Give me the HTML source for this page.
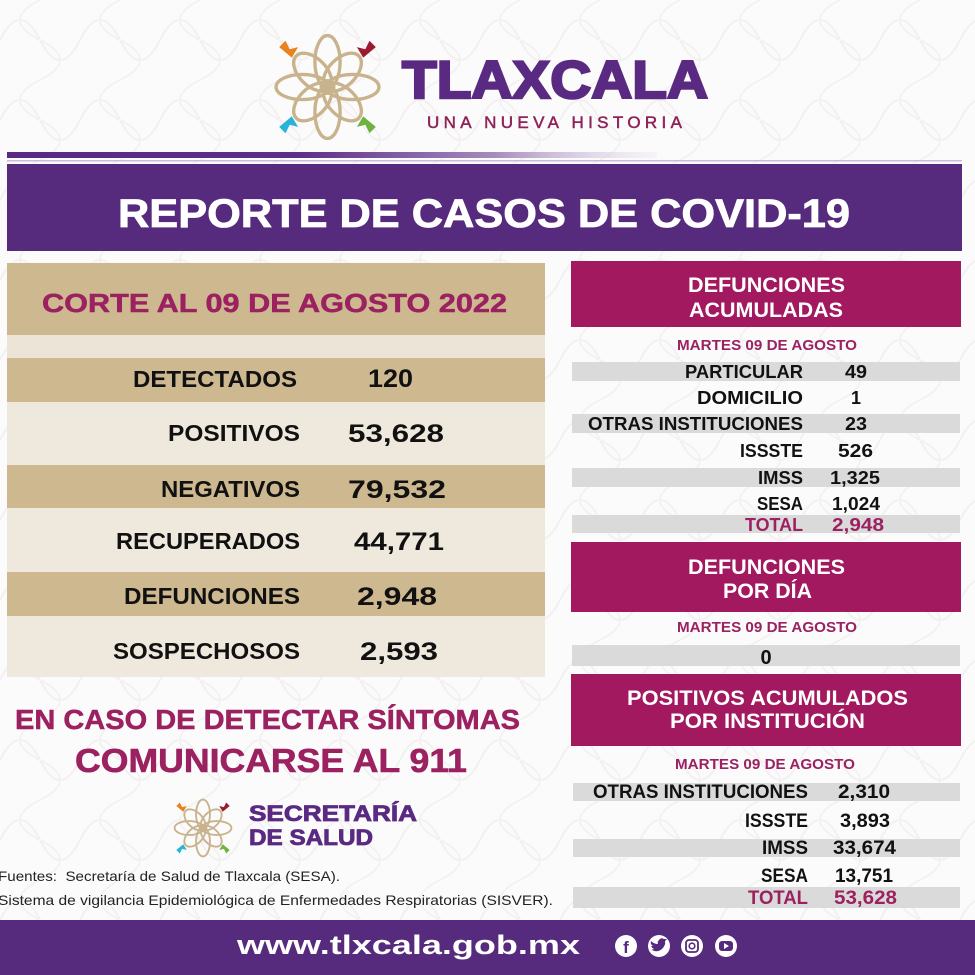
<!DOCTYPE html>
<html><head><meta charset="utf-8"><style>
html,body{margin:0;padding:0;background:#fcfbfb;}
svg{display:block;}
text{font-family:"Liberation Sans",Arial,sans-serif;font-weight:bold;}
</style></head><body>
<svg width="975" height="975" viewBox="0 0 975 975" xmlns="http://www.w3.org/2000/svg">
<defs>
<linearGradient id="gl" x1="0" x2="1" y1="0" y2="0">
<stop offset="0" stop-color="#5a2a82"/><stop offset="0.45" stop-color="#5e2d86"/><stop offset="0.75" stop-color="#a58bbd"/><stop offset="1" stop-color="#e9e1ef" stop-opacity="0.3"/>
</linearGradient>
<pattern id="bgp" width="80" height="80" patternUnits="userSpaceOnUse">
<path d="M0,40 Q20,0 40,40 Q60,80 80,40" fill="none" stroke="#f3f0f1" stroke-width="2"/>
<path d="M40,0 Q0,20 40,40 Q80,60 40,80" fill="none" stroke="#f4f1f2" stroke-width="2"/>
</pattern>
<g id="flower">
<g fill="none" stroke="#c8b38d" stroke-width="3.2">
<ellipse cx="0" cy="-24" rx="12" ry="25"/>
<ellipse cx="0" cy="24" rx="12" ry="25"/>
<ellipse cx="-24" cy="0" rx="25" ry="12"/>
<ellipse cx="24" cy="0" rx="25" ry="12"/>
<ellipse cx="0" cy="-20" rx="13" ry="22" transform="rotate(45)"/>
<ellipse cx="0" cy="-20" rx="13" ry="22" transform="rotate(135)"/>
<ellipse cx="0" cy="-20" rx="13" ry="22" transform="rotate(225)"/>
<ellipse cx="0" cy="-20" rx="13" ry="22" transform="rotate(315)"/>
<circle cx="0" cy="0" r="6"/>
</g>
<path d="M-46,-38 l6,-6 l4,8 l8,-2 l-6,10 z" fill="#e8821e"/>
<path d="M46,-38 l-6,-6 l-4,8 l-8,-2 l6,10 z" fill="#9b1b30"/>
<path d="M-46,38 l6,6 l4,-8 l8,2 l-6,-10 z" fill="#2ab3d9"/>
<path d="M46,38 l-6,6 l-4,-8 l-8,2 l6,-10 z" fill="#6db33f"/>
</g>
</defs>
<rect width="975" height="975" fill="#fcfbfb"/>
<rect width="975" height="975" fill="url(#bgp)"/>

<!-- header logo -->
<use href="#flower" transform="translate(327.5,87) scale(1.05)"/>
<text x="402" y="98" font-size="53" fill="#5a2a82" stroke="#5a2a82" stroke-width="2.4" textLength="306" lengthAdjust="spacingAndGlyphs">TLAXCALA</text>
<text x="427" y="128" font-size="17" fill="#8f2359" style="font-weight:normal" stroke="#8f2359" stroke-width="0.5" textLength="255" lengthAdjust="spacing">UNA NUEVA HISTORIA</text>

<!-- gradient lines -->
<rect x="7" y="152" width="650" height="6" fill="url(#gl)"/>
<rect x="7" y="160" width="955" height="1.5" fill="#cdbcd9"/>

<!-- banner -->
<rect x="7" y="164" width="955" height="87" fill="#562a7c"/>
<text x="118" y="227" font-size="40" fill="#ffffff" stroke="#ffffff" stroke-width="0.8" textLength="732" lengthAdjust="spacingAndGlyphs">REPORTE DE CASOS DE COVID-19</text>

<!-- left panel -->
<rect x="7" y="263" width="538" height="72" fill="#cdb88f"/>
<rect x="7" y="335" width="538" height="23" fill="#ece4d6"/>
<rect x="7" y="358" width="538" height="44" fill="#cdb88f"/>
<rect x="7" y="402" width="538" height="63" fill="#efe8dc"/>
<rect x="7" y="465" width="538" height="43" fill="#cdb88f"/>
<rect x="7" y="508" width="538" height="64" fill="#efe8dc"/>
<rect x="7" y="572" width="538" height="44" fill="#cdb88f"/>
<rect x="7" y="616" width="538" height="61" fill="#efe8dc"/>

<text x="42" y="312" font-size="26" fill="#9b2160" stroke="#9b2160" stroke-width="0.5" textLength="465" lengthAdjust="spacingAndGlyphs">CORTE AL 09 DE AGOSTO 2022</text>

<g font-size="23" fill="#111">
<text x="133" y="387" textLength="164" lengthAdjust="spacingAndGlyphs">DETECTADOS</text>
<text x="168" y="441" textLength="132" lengthAdjust="spacingAndGlyphs">POSITIVOS</text>
<text x="161" y="497" textLength="139" lengthAdjust="spacingAndGlyphs">NEGATIVOS</text>
<text x="116" y="549" textLength="184" lengthAdjust="spacingAndGlyphs">RECUPERADOS</text>
<text x="124" y="604" textLength="176" lengthAdjust="spacingAndGlyphs">DEFUNCIONES</text>
<text x="113" y="659" textLength="187" lengthAdjust="spacingAndGlyphs">SOSPECHOSOS</text>
</g>
<g font-size="25" fill="#111">
<text x="368" y="387" textLength="45" lengthAdjust="spacingAndGlyphs">120</text>
<text x="348" y="442" textLength="96" lengthAdjust="spacingAndGlyphs">53,628</text>
<text x="348" y="498" textLength="98" lengthAdjust="spacingAndGlyphs">79,532</text>
<text x="354" y="550" textLength="90" lengthAdjust="spacingAndGlyphs">44,771</text>
<text x="357" y="605" textLength="80" lengthAdjust="spacingAndGlyphs">2,948</text>
<text x="360" y="660" textLength="78" lengthAdjust="spacingAndGlyphs">2,593</text>
</g>

<!-- right column: box 1 -->
<rect x="571" y="261" width="390" height="66" fill="#a3195f"/>
<text x="688" y="292" font-size="21" fill="#fff" textLength="157" lengthAdjust="spacingAndGlyphs">DEFUNCIONES</text>
<text x="689" y="317" font-size="21" fill="#fff" textLength="154" lengthAdjust="spacingAndGlyphs">ACUMULADAS</text>
<text x="677" y="350" font-size="15" fill="#9b2160" textLength="180" lengthAdjust="spacingAndGlyphs">MARTES 09 DE AGOSTO</text>

<rect x="572" y="362" width="388" height="19" fill="#dadada"/>
<rect x="572" y="414" width="388" height="19" fill="#dadada"/>
<rect x="572" y="468" width="388" height="19" fill="#dadada"/>
<rect x="572" y="515" width="388" height="18" fill="#dadada"/>

<g font-size="18" fill="#111">
<text x="685" y="378" textLength="118" lengthAdjust="spacingAndGlyphs">PARTICULAR</text>
<text x="697" y="404" textLength="106" lengthAdjust="spacingAndGlyphs">DOMICILIO</text>
<text x="588" y="430" textLength="215" lengthAdjust="spacingAndGlyphs">OTRAS INSTITUCIONES</text>
<text x="740" y="457" textLength="63" lengthAdjust="spacingAndGlyphs">ISSSTE</text>
<text x="758" y="484" textLength="45" lengthAdjust="spacingAndGlyphs">IMSS</text>
<text x="757" y="510" textLength="46" lengthAdjust="spacingAndGlyphs">SESA</text>
<text x="845" y="378" textLength="22" lengthAdjust="spacingAndGlyphs">49</text>
<text x="851" y="404">1</text>
<text x="845" y="430" textLength="22" lengthAdjust="spacingAndGlyphs">23</text>
<text x="838" y="457" textLength="35" lengthAdjust="spacingAndGlyphs">526</text>
<text x="830" y="484" textLength="50" lengthAdjust="spacingAndGlyphs">1,325</text>
<text x="832" y="510" textLength="48" lengthAdjust="spacingAndGlyphs">1,024</text>
</g>
<g font-size="18" fill="#9b2160">
<text x="745" y="531" textLength="58" lengthAdjust="spacingAndGlyphs">TOTAL</text>
<text x="832" y="531" textLength="52" lengthAdjust="spacingAndGlyphs">2,948</text>
</g>

<!-- box 2 -->
<rect x="571" y="542" width="390" height="70" fill="#a3195f"/>
<text x="688" y="574" font-size="21" fill="#fff" textLength="157" lengthAdjust="spacingAndGlyphs">DEFUNCIONES</text>
<text x="723" y="598" font-size="21" fill="#fff" textLength="89" lengthAdjust="spacingAndGlyphs">POR DÍA</text>
<text x="677" y="632" font-size="15" fill="#9b2160" textLength="180" lengthAdjust="spacingAndGlyphs">MARTES 09 DE AGOSTO</text>
<rect x="572" y="645" width="388" height="21" fill="#dadada"/>
<text x="766" y="664" font-size="20" fill="#111" text-anchor="middle">0</text>

<!-- box 3 -->
<rect x="571" y="674" width="390" height="72" fill="#a3195f"/>
<text x="627" y="705" font-size="21" fill="#fff" textLength="281" lengthAdjust="spacingAndGlyphs">POSITIVOS ACUMULADOS</text>
<text x="670" y="728" font-size="21" fill="#fff" textLength="195" lengthAdjust="spacingAndGlyphs">POR INSTITUCIÓN</text>
<text x="675" y="769" font-size="15" fill="#9b2160" textLength="180" lengthAdjust="spacingAndGlyphs">MARTES 09 DE AGOSTO</text>

<rect x="573" y="783" width="387" height="18" fill="#dadada"/>
<rect x="573" y="839" width="387" height="18" fill="#dadada"/>
<rect x="573" y="887" width="387" height="21" fill="#dadada"/>

<g font-size="19" fill="#111">
<text x="593" y="798" textLength="215" lengthAdjust="spacingAndGlyphs">OTRAS INSTITUCIONES</text>
<text x="745" y="827" textLength="63" lengthAdjust="spacingAndGlyphs">ISSSTE</text>
<text x="762" y="854" textLength="46" lengthAdjust="spacingAndGlyphs">IMSS</text>
<text x="761" y="882" textLength="47" lengthAdjust="spacingAndGlyphs">SESA</text>
<text x="838" y="798" textLength="52" lengthAdjust="spacingAndGlyphs">2,310</text>
<text x="840" y="827" textLength="50" lengthAdjust="spacingAndGlyphs">3,893</text>
<text x="833" y="854" textLength="63" lengthAdjust="spacingAndGlyphs">33,674</text>
<text x="835" y="882" textLength="58" lengthAdjust="spacingAndGlyphs">13,751</text>
</g>
<g font-size="19" fill="#9b2160">
<text x="748" y="904" textLength="60" lengthAdjust="spacingAndGlyphs">TOTAL</text>
<text x="834" y="904" textLength="63" lengthAdjust="spacingAndGlyphs">53,628</text>
</g>

<!-- bottom left -->
<text x="15" y="729" font-size="28" fill="#9b2160" stroke="#9b2160" stroke-width="0.5" textLength="505" lengthAdjust="spacingAndGlyphs">EN CASO DE DETECTAR SÍNTOMAS</text>
<text x="75" y="772" font-size="33" fill="#9b2160" stroke="#9b2160" stroke-width="0.6" textLength="392" lengthAdjust="spacingAndGlyphs">COMUNICARSE AL 911</text>

<use href="#flower" transform="translate(203,828) scale(0.58)"/>
<text x="249" y="821" font-size="22" fill="#5a2a82" stroke="#5a2a82" stroke-width="0.8" textLength="168" lengthAdjust="spacingAndGlyphs">SECRETARÍA</text>
<text x="249" y="845" font-size="22" fill="#5a2a82" stroke="#5a2a82" stroke-width="0.8" textLength="124" lengthAdjust="spacingAndGlyphs">DE SALUD</text>

<text x="-2" y="881" font-size="14" style="font-weight:normal" fill="#222" xml:space="preserve" textLength="342" lengthAdjust="spacingAndGlyphs">Fuentes:  Secretaría de Salud de Tlaxcala (SESA).</text>
<text x="-2" y="905" font-size="14" style="font-weight:normal" fill="#222" textLength="555" lengthAdjust="spacingAndGlyphs">Sistema de vigilancia Epidemiológica de Enfermedades Respiratorias (SISVER).</text>

<!-- footer -->
<rect x="0" y="920" width="975" height="55" fill="#562a7c"/>
<text x="237" y="954" font-size="27" fill="#fff" textLength="343" lengthAdjust="spacingAndGlyphs">www.tlxcala.gob.mx</text>
<g fill="#fff">
<circle cx="626" cy="946" r="11"/>
<circle cx="659" cy="946" r="11"/>
<circle cx="692" cy="946" r="11"/>
<circle cx="726" cy="946" r="11"/>
</g>
<text x="626" y="953" font-size="17" fill="#562a7c" text-anchor="middle">f</text>
<path d="M652,950 q5,3 10,-1 q4,-4 3,-8 l2,-2 l-3,0 q-3,-2 -5,1 q-2,2 -1,4 q-4,0 -7,-3 q-1,3 2,5 l-2,0 q1,2 3,3 q-2,1 -4,1 z" fill="#562a7c"/>
<rect x="686" y="940" width="12" height="12" rx="3" fill="none" stroke="#562a7c" stroke-width="1.8"/>
<circle cx="692" cy="946" r="2.8" fill="none" stroke="#562a7c" stroke-width="1.6"/>
<rect x="719" y="941" width="14" height="10" rx="3" fill="#562a7c"/>
<path d="M724,943 l5,3 l-5,3 z" fill="#fff"/>
</svg>
</body></html>
